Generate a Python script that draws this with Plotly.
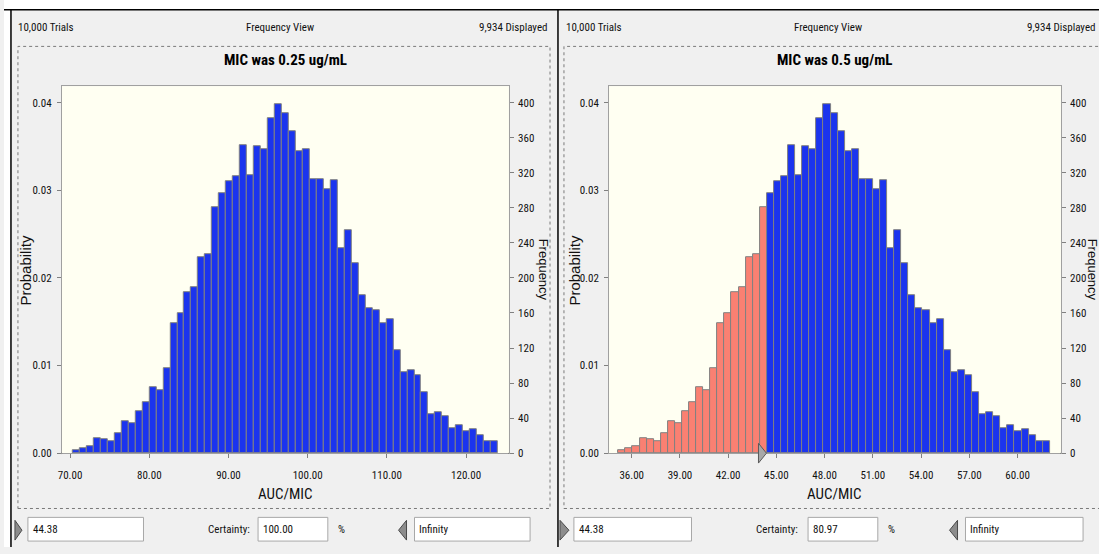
import plotly.graph_objects as go

# ---------------- data ----------------
TRIALS = 10000
DISPLAYED = 9934

# histogram counts per bin (same simulation, two MIC values)
counts = [4, 6, 8, 17, 16, 14, 23, 36, 34, 48, 58, 75, 72, 97, 148, 160, 184, 190,
          224, 227, 281, 297, 310, 316, 352, 317, 350, 347, 382, 398, 388, 368, 345,
          347, 313, 313, 301, 312, 234, 254, 217,
          180, 165, 163, 148, 153, 118, 93, 95, 89, 70, 45, 47, 42, 29, 32, 25, 27,
          20, 14, 14]

titles = ["MIC was 0.25 ug/mL", "MIC was 0.5 ug/mL"]
bin_start = [70.34, 35.17]
bin_width = [0.88, 0.44]
lower_bound = 44.38
upper_bound = float("inf")
certainty = [100.00, 80.97]
x_ranges = [[68.956, 125.40], [34.593, 62.69]]
x_tick0 = [70, 36]
x_dtick = [10, 3]
freq_top = 418.8

# ---------------- style ----------------
W, H = 1099, 554
NARROW = "Liberation Sans Narrow, Arial Narrow, Roboto Condensed, DejaVu Sans Condensed, sans-serif"
REGULAR = "Liberation Sans, Arial, sans-serif"
BLUE = "#1b34ee"
SALMON = "#fa8072"
PANEL_BG = "#f0f0f0"
PLOT_BG = "#fffff2"
TXT = "#111111"


def px(x):
    return x / W


def py(y):
    return 1 - y / H


# pixel geometry of each panel
panels = [
    dict(plot=(58.0, 506.7), header_l=12, header_c=277, header_r=548,
         box=(14, 548), prob_x=22, freq_x=541,
         tri_r=(11, 18), box1=(24, 140), cert_r=249, box2=(255, 325),
         pct=333, tri_l=(396, 404), box3=(412, 528)),
    dict(plot=(607.3, 1060.7), header_l=562, header_c=827, header_r=1098,
         box=(562, 1104), prob_x=573, freq_x=1092,
         tri_r=(558, 567), box1=(572, 690), cert_r=799, box2=(807, 877),
         pct=885, tri_l=(949, 957), box3=(965, 1083)),
]
PLOT_TOP, PLOT_BOT = 87.3, 459.0

fig = go.Figure()
shapes = []
annotations = []

# window chrome
shapes.append(dict(type="rect", xref="paper", yref="paper", x0=0, x1=1, y0=py(10), y1=1,
                   fillcolor="white", line=dict(width=0), layer="below"))
shapes.append(dict(type="rect", xref="paper", yref="paper", x0=0, x1=px(6), y0=0, y1=py(10),
                   fillcolor="white", line=dict(width=0), layer="below"))
shapes.append(dict(type="line", xref="paper", yref="paper", x0=0, x1=1, y0=py(10), y1=py(10),
                   line=dict(color="black", width=1.5)))
for xl in (7, 556):
    shapes.append(dict(type="line", xref="paper", yref="paper", x0=px(xl), x1=px(xl),
                       y0=py(10), y1=0, line=dict(color="black", width=1.5)))

for i, p in enumerate(panels):
    xa = "x" if i == 0 else "x2"
    ya_prob = "y" if i == 0 else "y3"
    ya_freq = "y2" if i == 0 else "y4"

    centers = [bin_start[i] + (k + 0.5) * bin_width[i] for k in range(len(counts))]
    colors = [BLUE if lower_bound <= c <= upper_bound else SALMON for c in centers]

    fig.add_trace(go.Scatter(x=[x_ranges[i][0]], y=[0], xaxis=xa, yaxis=ya_prob,
                             mode="markers", marker=dict(opacity=0), hoverinfo="skip",
                             showlegend=False))
    fig.add_trace(go.Bar(x=centers, y=counts, width=bin_width[i], xaxis=xa, yaxis=ya_freq,
                         marker=dict(color=colors, line=dict(color="#808080", width=1)),
                         showlegend=False, hovertemplate="%{x:.2f}: %{y}<extra></extra>"))

    x0p, x1p = p["plot"]
    common = dict(showgrid=False, zeroline=False, ticks="outside", ticklen=4,
                  tickcolor="#808080", tickwidth=1, fixedrange=True,
                  tickfont=dict(family=NARROW, size=11, color=TXT))
    fig.update_layout(**{
        ("xaxis" if i == 0 else "xaxis2"): dict(
            domain=[px(x0p), px(x1p)], range=x_ranges[i], anchor=ya_prob,
            tickmode="linear", tick0=x_tick0[i], dtick=x_dtick[i], tickformat=".2f",
            showline=True, linecolor="#a0a0a0", linewidth=1, mirror=True,
            ticklabelstandoff=8, **common),
        ("yaxis" if i == 0 else "yaxis3"): dict(
            domain=[py(PLOT_BOT), py(PLOT_TOP)], range=[0, freq_top / TRIALS], anchor=xa,
            tickmode="linear", tick0=0, dtick=0.01, tickformat=".2f",
            showline=True, linecolor="#a0a0a0", linewidth=1, mirror=True,
            ticklabelstandoff=3, **common),
        ("yaxis2" if i == 0 else "yaxis4"): dict(
            domain=[py(PLOT_BOT), py(PLOT_TOP)], range=[0, freq_top], anchor=xa,
            overlaying=ya_prob, side="right", tickmode="linear", tick0=0, dtick=40,
            showline=False, ticklabelstandoff=2, **common),
    })

    # dotted chart frame
    bx0, bx1 = p["box"]
    shapes.append(dict(type="rect", xref="paper", yref="paper", x0=px(bx0), x1=px(bx1),
                       y0=py(515), y1=py(47), line=dict(color="#7a7a7a", width=1, dash="dot"),
                       fillcolor="rgba(0,0,0,0)", layer="below"))

    # header
    annotations += [
        dict(text=f"{TRIALS:,} Trials", x=px(p["header_l"]), y=py(28),
             xanchor="left", yanchor="middle", font=dict(family=NARROW, size=11, color=TXT)),
        dict(text="Frequency View", x=px(p["header_c"]), y=py(28), xanchor="center",
             yanchor="middle", font=dict(family=NARROW, size=11, color=TXT)),
        dict(text=f"{DISPLAYED:,} Displayed", x=px(p["header_r"]), y=py(28), xanchor="right",
             yanchor="middle", font=dict(family=NARROW, size=11, color=TXT)),
        dict(text=f"<b>{titles[i]}</b>", x=px((x0p + x1p) / 2), y=py(61), xanchor="center",
             yanchor="middle", font=dict(family=NARROW, size=15, color="black")),
        dict(text="Probability", x=px(p["prob_x"]), y=py((PLOT_TOP + PLOT_BOT) / 2),
             xanchor="center", yanchor="middle", textangle=-90,
             font=dict(family=REGULAR, size=15, color=TXT)),
        dict(text="Frequency", x=px(p["freq_x"]), y=py((PLOT_TOP + PLOT_BOT) / 2),
             xanchor="center", yanchor="middle", textangle=90,
             font=dict(family=REGULAR, size=13, color=TXT)),
        dict(text="AUC/MIC", x=px((x0p + x1p) / 2), y=py(500), xanchor="center",
             yanchor="middle", font=dict(family=NARROW, size=15, color=TXT)),
    ]

    # grabbers on the x axis (certainty range)
    xr = x_ranges[i]
    units_per_px = (xr[1] - xr[0]) / (x1p - x0p)
    tw = 8 * units_per_px
    lo = max(lower_bound, xr[0])
    hi = min(upper_bound, xr[1])
    y_a, y_m, y_b = py(449), py(459), py(469)
    shapes.append(dict(type="path", xref=xa, yref="paper",
                       path=f"M {lo - tw},{y_a} L {lo},{y_m} L {lo - tw},{y_b} Z",
                       fillcolor="#a8a8a8", line=dict(color="#5a5a5a", width=1)))
    shapes.append(dict(type="path", xref=xa, yref="paper",
                       path=f"M {hi + tw},{y_a} L {hi},{y_m} L {hi + tw},{y_b} Z",
                       fillcolor="#a8a8a8", line=dict(color="#5a5a5a", width=1)))

    # certainty controls
    for bxa, bxb in (p["box1"], p["box2"], p["box3"]):
        shapes.append(dict(type="rect", xref="paper", yref="paper", x0=px(bxa), x1=px(bxb),
                           y0=py(548), y1=py(524), fillcolor="white",
                           line=dict(color="#a8a8a8", width=1)))
    ta, tb = p["tri_r"]
    shapes.append(dict(type="path", xref="paper", yref="paper",
                       path=f"M {px(ta)},{py(527)} L {px(tb)},{py(537)} L {px(ta)},{py(547)} Z",
                       fillcolor="#8c8c8c", line=dict(color="#4a4a4a", width=1)))
    ta, tb = p["tri_l"]
    shapes.append(dict(type="path", xref="paper", yref="paper",
                       path=f"M {px(tb)},{py(527)} L {px(ta)},{py(537)} L {px(tb)},{py(547)} Z",
                       fillcolor="#8c8c8c", line=dict(color="#4a4a4a", width=1)))
    upper_txt = "Infinity" if upper_bound == float("inf") else f"{upper_bound:.2f}"
    annotations += [
        dict(text=f"{lower_bound:.2f}", x=px(p["box1"][0] + 3), y=py(536), xanchor="left",
             yanchor="middle", font=dict(family=NARROW, size=11, color=TXT)),
        dict(text="Certainty:", x=px(p["cert_r"]), y=py(536), xanchor="right",
             yanchor="middle", font=dict(family=NARROW, size=11, color=TXT)),
        dict(text=f"{certainty[i]:.2f}", x=px(p["box2"][0] + 3), y=py(536), xanchor="left",
             yanchor="middle", font=dict(family=NARROW, size=11, color=TXT)),
        dict(text="%", x=px(p["pct"]), y=py(536), xanchor="left",
             yanchor="middle", font=dict(family=NARROW, size=11, color=TXT)),
        dict(text=upper_txt, x=px(p["box3"][0] + 3), y=py(536), xanchor="left",
             yanchor="middle", font=dict(family=NARROW, size=11, color=TXT)),
    ]

for a in annotations:
    a.update(xref="paper", yref="paper", showarrow=False)

fig.update_layout(
    width=W, height=H, margin=dict(l=0, r=0, t=0, b=0),
    paper_bgcolor=PANEL_BG, plot_bgcolor=PLOT_BG,
    bargap=0, barmode="overlay", showlegend=False,
    shapes=shapes, annotations=annotations,
)

fig.write_html("out.html", config={"displayModeBar": False})
